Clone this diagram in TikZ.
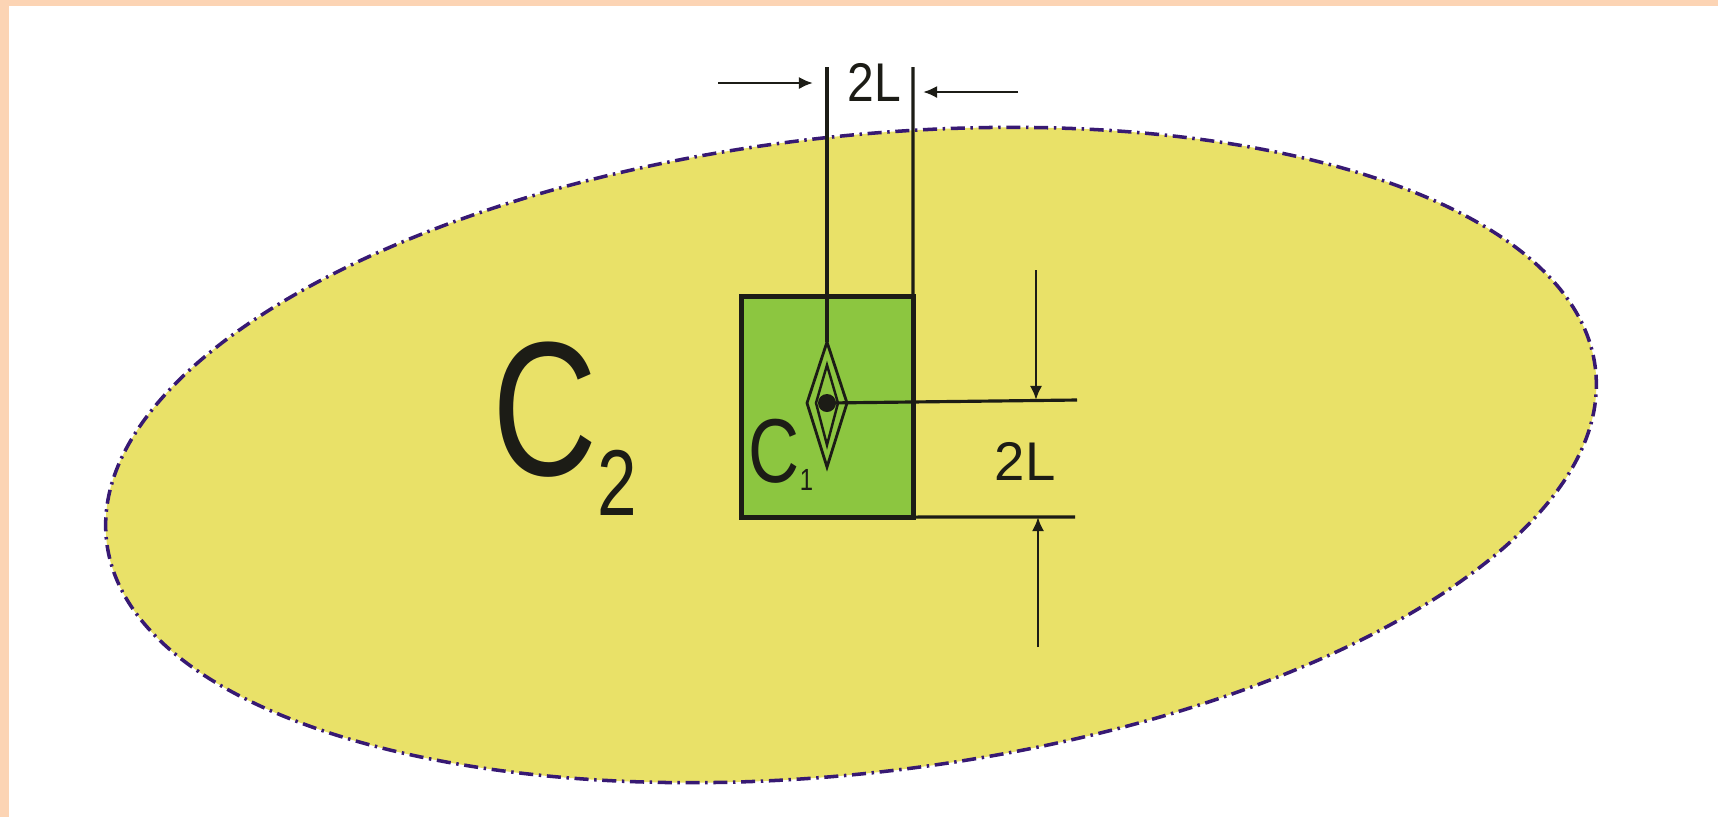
\documentclass[tikz,border=0pt]{standalone}
\usepackage{fontspec}
\setmainfont{Liberation Sans}
\usetikzlibrary{shapes.geometric,arrows.meta}
\definecolor{peach}{RGB}{252,212,180}
\definecolor{ellfill}{RGB}{233,225,104}
\definecolor{ellline}{RGB}{55,25,115}
\definecolor{sqfill}{RGB}{140,198,64}
\definecolor{ink}{RGB}{28,28,22}
\begin{document}
\begin{tikzpicture}[x=0.01cm,y=-0.01cm,
  dimline/.style={draw=ink,line width=0.9pt},
  dimarrow/.style={draw=ink,line width=0.8pt,-{Latex[length=4pt,width=3.5pt]}},
  lbl/.style={inner sep=0pt,text=ink}]
\useasboundingbox (0,0) rectangle (1718,817);
\fill[white] (0,0) rectangle (1718,817);
\fill[peach] (0,0) rectangle (1718,6);
\fill[peach] (0,0) rectangle (9,817);
% outer region C2
\node[ellipse, draw=ellline, fill=ellfill, line width=1pt,
      dash pattern=on 4pt off 1.6pt on 0.7pt off 1.6pt,
      minimum width=14.98cm, minimum height=6.36cm, inner sep=0pt, rotate=6.6]
      (region) at (851,455) {};
% inner square C1
\node[draw=ink, fill=sqfill, line width=1.4pt, outer sep=0pt, inner sep=0pt,
      minimum width=1.71cm, minimum height=2.2cm] (sq) at (827.5,407) {};
% diamond with dot
\draw[ink, line width=0.8pt] (827,342) -- (847,403) -- (827,467) -- (807,403) -- cycle;
\draw[ink, line width=0.7pt] (827,365) -- (838,403) -- (827,445) -- (816,403) -- cycle;
\node[circle, fill=ink, inner sep=0pt, minimum size=0.18cm] (dot) at (827,403) {};
\coordinate (dtop) at (827,342);
% top dimension
\coordinate (tl) at (827,67);
\coordinate (tr) at (913,67);
\draw[dimline] (tl) -- (dtop);
\draw[dimline] (tr) -- (sq.north east);
\coordinate (ha1) at (718,83);
\coordinate (ha2) at (813,83);
\coordinate (hb1) at (1018,92);
\coordinate (hb2) at (923,92);
\draw[dimarrow] (ha1) -- (ha2);
\draw[dimarrow] (hb1) -- (hb2);
\node[lbl, anchor=base] (ltop) at (874,101) {\scalebox{0.88}[1]{\fontsize{15.5pt}{18pt}\selectfont 2L}};
% right dimension
\coordinate (hu) at (1077,400);
\coordinate (hl) at (1075,517);
\draw[dimline] (dot.center) -- (hu);
\draw[dimline] (sq.south east) -- (hl);
\coordinate (va) at (1036,270);
\coordinate (vb) at (1038,647);
\draw[dimarrow] (va) -- (va |- hu);
\draw[dimarrow] (vb) -- (vb |- hl);
\node[lbl, anchor=base] (lright) at (1025,480) {\fontsize{15.5pt}{18pt}\selectfont 2L};
% labels
\node[lbl, anchor=base west] (ctwo) at (492,475) {\scalebox{0.76}[1]{\fontsize{54.4pt}{60pt}\selectfont C\raisebox{-11.4pt}{\fontsize{26.6pt}{30pt}\selectfont 2}}};
\node[lbl, anchor=base west] (cone) at (748,482) {\scalebox{0.78}[1]{\fontsize{25.8pt}{28pt}\selectfont C\raisebox{-2.3pt}{\fontsize{8.7pt}{10pt}\selectfont 1}}};
\end{tikzpicture}
\end{document}
